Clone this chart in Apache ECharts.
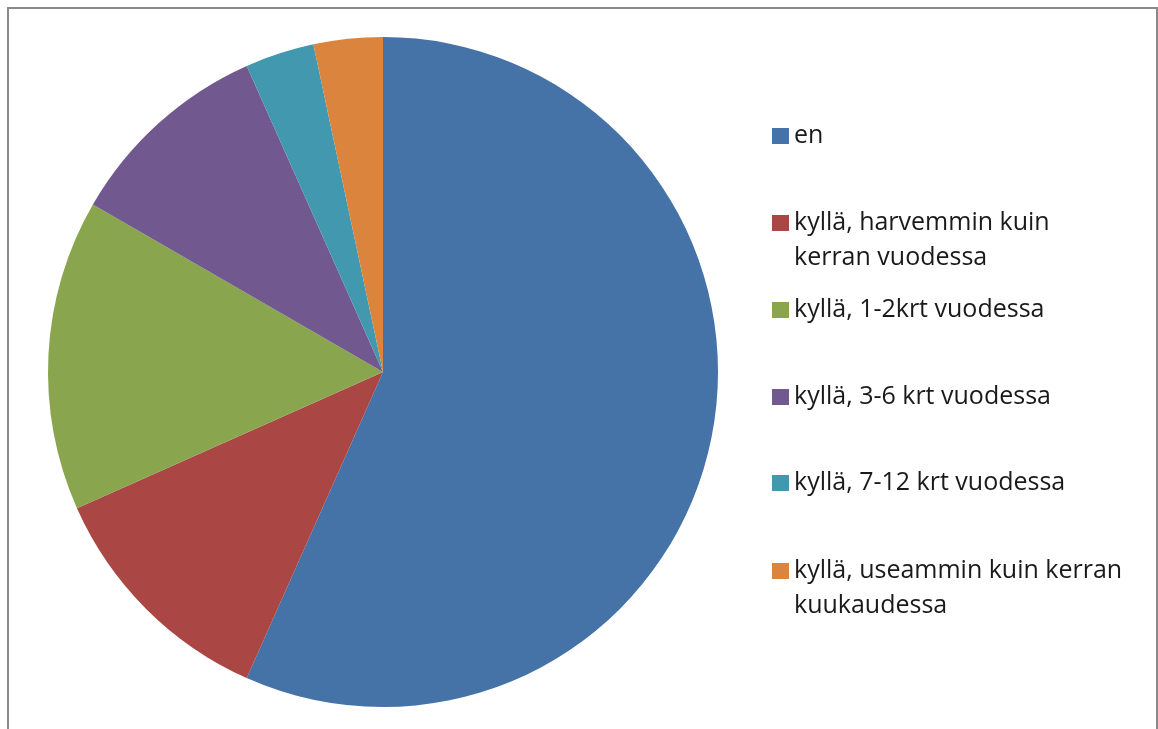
<!DOCTYPE html>
<html>
<head>
<meta charset="utf-8">
<script src="https://cdn.jsdelivr.net/npm/echarts@6/dist/echarts.min.js"></script>
<style>
  html, body { margin: 0; padding: 0; background: #fff; }
  #chart { width: 1158px; height: 729px; }
</style>
</head>
<body>
<div id="chart"></div>
<script>
// Answers to the question, in order clockwise from the top
const categories = [
  'en',
  'kyllä, harvemmin kuin\nkerran vuodessa',
  'kyllä, 1-2krt vuodessa',
  'kyllä, 3-6 krt vuodessa',
  'kyllä, 7-12 krt vuodessa',
  'kyllä, useammin kuin kerran\nkuukaudessa'
];
// Number of respondents per answer
const counts = [34, 7, 9, 6, 2, 2];
const colors = ['#4572A7', '#AA4643', '#89A54E', '#71588F', '#4198AF', '#DB843D'];

const LINE_H = 35;
const FONT = '"Open Sans", "Noto Sans", sans-serif';
// vertical centre of each legend swatch
const swatchCentres = [136, 223, 310, 397, 483, 571];

const legends = categories.map(function (name, i) {
  const lines = name.split('\n').length;
  // a two-line entry gets a blank first line, so that the block of three
  // lines is centred on the swatch and the swatch sits beside the first line
  const shown = lines > 1 ? 3 : 1;
  const halfH = shown * LINE_H / 2;
  return {
    show: true,
    orient: 'vertical',
    left: 772,
    top: swatchCentres[i] - halfH,
    padding: 0,
    itemWidth: 17,
    itemHeight: 16,
    icon: 'rect',
    selectedMode: false,
    data: [name],
    formatter: function (n) { return lines > 1 ? '\n' + n : n; },
    textStyle: {
      fontFamily: FONT,
      fontSize: 25,
      color: '#1a1a1a',
      lineHeight: LINE_H
    }
  };
});

const chart = echarts.init(document.getElementById('chart'), null, { renderer: 'canvas' });
chart.setOption({
  animation: false,
  backgroundColor: '#fff',
  color: colors,
  legend: legends,
  graphic: [{
    type: 'rect',
    shape: { x: 8, y: 8, width: 1149, height: 740 },
    style: { fill: 'none', stroke: '#8a8a8a', lineWidth: 2 },
    silent: true
  }],
  series: [{
    type: 'pie',
    center: [383, 372],
    radius: 335,
    startAngle: 90,
    clockwise: true,
    label: { show: false },
    labelLine: { show: false },
    emphasis: { disabled: true },
    itemStyle: { borderWidth: 0 },
    data: categories.map(function (name, i) {
      return { name: name, value: counts[i] };
    })
  }]
});
</script>
</body>
</html>
